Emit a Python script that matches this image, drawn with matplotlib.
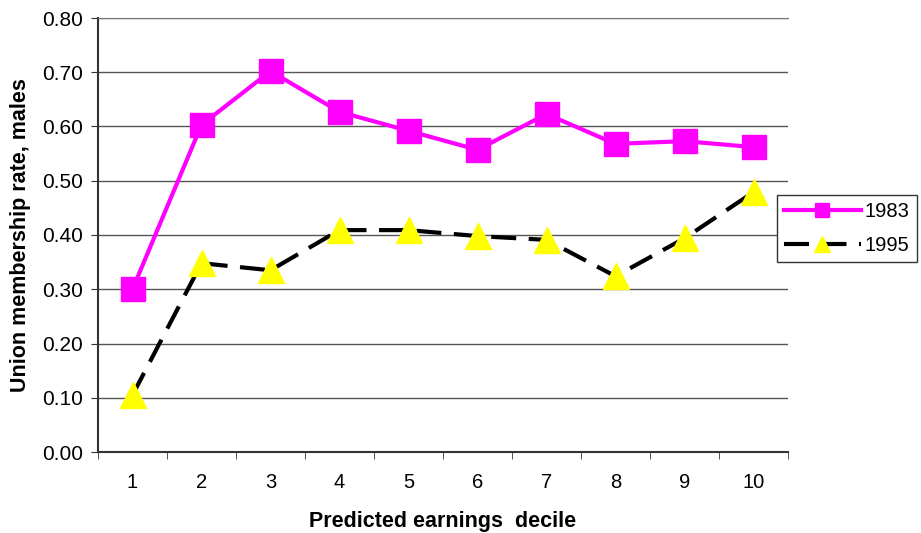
import matplotlib
matplotlib.use("Agg")
import matplotlib.pyplot as plt
import numpy as np

plt.rcParams['font.family'] = ['Liberation Sans', 'DejaVu Sans']

# =========================
# Data
# =========================
deciles = [1, 2, 3, 4, 5, 6, 7, 8, 9, 10]
rate_1983 = [0.300, 0.603, 0.702, 0.627, 0.592, 0.557, 0.623, 0.568, 0.573, 0.562]
rate_1995 = [0.105, 0.348, 0.335, 0.409, 0.409, 0.398, 0.391, 0.324, 0.394, 0.479]

# =========================
# Chart
# =========================
fig = plt.figure(figsize=(9.21, 5.33), dpi=100)
ax = fig.add_axes([98 / 921, 81 / 533, 690 / 921, 434 / 533])

ax.plot(deciles, rate_1983, color='#ff00ff', linewidth=3, marker='s',
        markersize=17.5, markerfacecolor='#ff00ff', markeredgecolor='#ff00ff',
        label='1983', zorder=3)
ax.plot(deciles, rate_1995, color='black', linewidth=3, dashes=(6, 3),
        marker='^', markersize=19, markerfacecolor='#ffff00',
        markeredgecolor='#ffff00', label='1995', zorder=3)

ax.set_xlim(0.5, 10.5)
ax.set_ylim(0, 0.8)
ax.set_yticks(np.arange(0, 0.81, 0.1))
ax.set_yticklabels([f"{v:.2f}" for v in np.arange(0, 0.81, 0.1)], fontsize=15)
ax.yaxis.grid(True, color='#555555', linewidth=1)
ax.set_axisbelow(True)

# category labels in the middle, ticks between categories
ax.set_xticks(deciles)
ax.set_xticklabels([str(d) for d in deciles], fontsize=14.5)
ax.tick_params(axis='x', which='major', length=0, pad=15)
ax.set_xticks(np.arange(0.5, 10.6, 1), minor=True)
ax.tick_params(axis='x', which='minor', length=5, direction='out', color='#333333')
ax.tick_params(axis='y', length=5, direction='out', color='#333333', pad=6)

ax.spines['right'].set_visible(False)
ax.spines['top'].set_color('#777777')
ax.spines['left'].set_color('#333333')
ax.spines['bottom'].set_color('#333333')
ax.spines['left'].set_linewidth(1.5)
ax.spines['bottom'].set_linewidth(1.5)

ax.set_xlabel("Predicted earnings  decile", fontsize=15.5, fontweight='bold', labelpad=14)
ax.set_ylabel("Union membership rate, males", fontsize=15.5, fontweight='bold', labelpad=8)

leg = fig.legend(loc='upper left', bbox_to_anchor=(777 / 921, 1 - 195 / 533),
                 borderaxespad=0, fontsize=14.5, frameon=True, fancybox=False,
                 framealpha=1, edgecolor='#333333', handlelength=3.8,
                 borderpad=0.35, labelspacing=0.75, handletextpad=0.2,
                 markerscale=0.6)
leg.get_frame().set_linewidth(1)

plt.savefig("out.png", dpi=100)
